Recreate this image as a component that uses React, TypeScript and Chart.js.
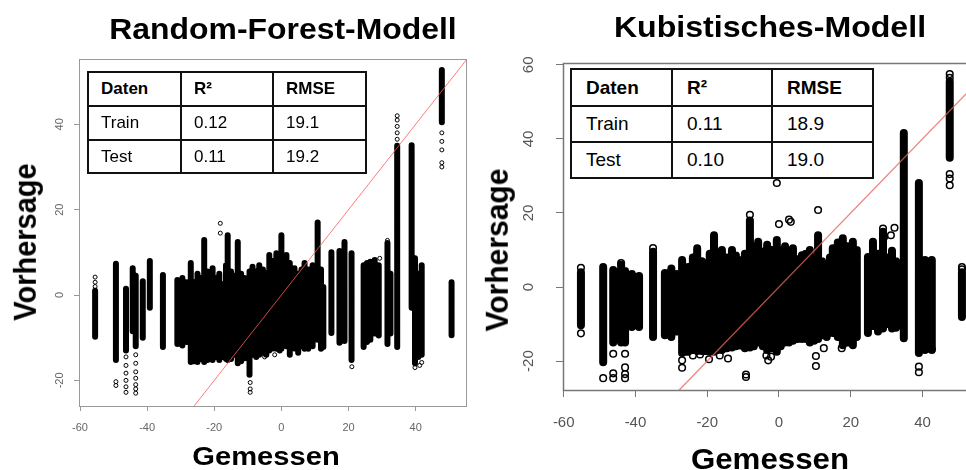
import { useEffect, useRef } from "react";
import { Chart, registerables } from "chart.js";

Chart.register(...registerables);

// [Gemessen, lowest Vorhersage, highest Vorhersage] for each dense column of points
type Column = [number, number, number];
type Point = [number, number];

const rfColumns: Column[] = [
  [-55.5, -9.8, 1.0], [-49.3, -15.2, 7.3], [-46.3, -13.0, 1.5], [-44.3, -8.5, 6.3],
  [-43.4, -12.0, 4.5], [-41.3, -10.0, 3.2], [-39.2, -3.0, 8.0], [-35.3, -12.2, 4.7],
  [-31.0, -11.5, 3.5], [-29.5, -11.8, 4.0], [-28.2, -11.0, 3.0],
  [-27.0, -15.7, 7.5], [-26.0, -15.5, 3.0], [-25.0, -15.7, 5.0], [-24.0, -15.0, 4.0],
  [-23.0, -15.7, 12.9], [-22.0, -15.2, 5.5], [-21.0, -15.0, 3.5], [-20.5, -15.2, 6.3],
  [-19.5, -14.5, 4.0], [-18.5, -15.2, 5.0], [-17.5, -14.5, 2.5], [-16.5, -15.0, 7.0],
  [-16.0, -15.2, 14.0], [-15.0, -15.0, 5.5], [-14.0, -14.0, 4.5], [-13.0, -16.0, 12.4],
  [-12.0, -15.5, 5.0], [-11.0, -14.8, 4.0], [-10.5, -14.5, 3.0], [-9.5, -18.7, 5.5],
  [-8.6, -14.0, 6.6], [-7.5, -14.5, 5.5], [-6.6, -14.0, 7.0], [-5.5, -13.5, 6.0],
  [-4.5, -14.0, 5.0], [-3.6, -13.0, 9.4], [-2.5, -12.5, 8.0], [-1.5, -12.6, 9.8],
  [-0.5, -13.0, 8.5], [0.0, -12.6, 14.0], [1.5, -12.0, 9.4], [2.5, -14.0, 7.5],
  [3.9, -12.5, 6.3], [5.0, -13.5, 5.0], [6.0, -12.0, 6.0], [6.9, -12.6, 7.5],
  [8.0, -12.6, 6.0], [9.3, -12.0, 7.0], [10.8, -10.5, 17.0], [11.8, -12.6, 6.0],
  [12.5, -12.2, 1.9], [14.9, -8.9, 10.0], [17.3, -11.2, 10.3], [18.8, -10.8, 12.4],
  [20.9, -15.2, 9.8],
  [24.5, -12.2, 7.0], [25.5, -11.0, 7.5], [26.5, -10.5, 7.8], [27.8, -9.0, 8.2],
  [29.0, -9.5, 7.0], [31.6, -11.5, 12.2], [32.5, -9.0, 5.0], [34.5, -12.2, 35.0],
  [38.8, -3.0, 35.1], [39.8, -16.0, 8.6], [40.8, -14.5, 5.0], [41.8, -14.0, 7.0],
  [47.8, 40.5, 52.7], [50.7, -9.4, 3.0],
];

const rfOutliers: Point[] = [
  [-55.5, 4.2], [-55.5, 3.0], [-55.5, 2.0],
  [-49.3, -20.3], [-49.3, -21.2],
  [-46.3, -14.5], [-46.3, -16.5], [-46.3, -18.3], [-46.3, -20.0], [-46.3, -21.5], [-46.3, -22.8],
  [-43.4, -14.0], [-43.4, -16.0], [-43.4, -18.0], [-43.4, -19.5], [-43.4, -21.0], [-43.4, -22.0], [-43.4, -23.0],
  [-18.2, 16.8], [-18.2, 14.5],
  [-9.3, -20.5], [-9.3, -22.0], [-9.3, -22.8],
  [-5.0, -14.5], [-2.0, -14.0],
  [10.8, 17.0], [10.8, 15.5],
  [21.0, -16.8],
  [31.6, 12.8], [29.3, 8.6],
  [34.5, 36.5], [34.5, 38.0], [34.5, 39.5], [34.5, 41.0], [34.5, 42.0],
  [39.8, -17.0], [41.8, -15.8], [41.2, -16.5],
  [47.8, 38.0], [47.8, 36.0], [47.8, 34.0], [47.8, 31.0], [47.8, 30.0],
];

const cubColumns: Column[] = [
  [-55.2, -10.3, 4.0], [-49.0, -20.3, 5.4], [-46.2, -15.0, 4.6], [-44.0, -15.0, 6.0],
  [-42.9, -15.0, 4.3], [-41.0, -10.8, 3.5], [-39.0, -10.8, 3.0], [-35.1, -13.5, 9.5],
  [-31.8, -13.0, 3.8], [-30.0, -13.5, 5.0], [-28.5, -12.0, 3.5],
  [-27.0, -17.8, 7.3], [-26.0, -17.5, 5.0], [-25.3, -17.5, 5.4], [-24.0, -17.0, 8.0],
  [-22.8, -17.3, 10.5], [-21.5, -17.3, 7.0], [-20.6, -17.3, 6.5], [-19.3, -17.5, 9.0],
  [-18.1, -17.5, 14.0], [-17.0, -17.0, 9.0], [-15.9, -17.0, 10.0], [-14.5, -16.5, 8.0],
  [-13.1, -16.3, 10.0], [-12.0, -16.0, 8.5], [-10.9, -15.8, 7.3], [-9.5, -16.5, 9.0],
  [-8.1, -16.3, 18.0], [-7.0, -16.0, 11.0], [-5.8, -15.0, 12.2], [-4.5, -16.0, 9.5],
  [-3.3, -17.0, 11.4], [-2.0, -16.5, 10.0], [-0.6, -17.5, 12.7], [0.5, -16.0, 10.0],
  [1.7, -15.0, 11.0], [2.8, -15.0, 9.0], [3.9, -14.5, 10.5], [5.2, -14.0, 7.5],
  [6.4, -14.0, 8.6], [7.5, -14.0, 9.0], [8.6, -15.0, 10.0], [9.8, -14.5, 8.0],
  [10.9, -14.0, 14.0], [12.0, -13.0, 7.0], [13.3, -13.5, 3.8], [14.2, -12.0, 8.0],
  [15.0, -12.4, 10.5], [16.4, -13.5, 12.0], [17.8, -15.7, 13.2], [19.2, -15.0, 11.0],
  [20.6, -15.7, 12.2], [21.7, -13.5, 10.0],
  [24.8, -12.4, 8.1], [26.2, -10.5, 12.2], [27.6, -12.0, 9.0], [29.0, -11.2, 14.9],
  [30.3, -10.0, 8.0], [31.5, -11.2, 9.8], [32.6, -11.0, 7.0], [34.8, -13.8, 41.6],
  [39.0, -17.8, 28.1], [40.7, -17.0, 7.3], [41.7, -16.0, 5.0], [42.6, -17.0, 7.3],
  [47.6, 34.9, 55.5], [51.0, -8.1, 4.0],
];

const cubOutliers: Point[] = [
  [-55.2, 5.2], [-55.2, -12.5],
  [-49.0, -24.6],
  [-46.2, -18.0], [-46.2, -23.3], [-46.2, -24.6],
  [-42.9, -18.0], [-42.9, -21.7], [-42.9, -23.5], [-42.9, -24.6],
  [-44.0, 6.5], [-35.1, 10.5],
  [-27.0, -19.8], [-27.0, -21.8],
  [-24.0, -18.5], [-22.0, -18.2], [-19.5, -19.5], [-16.5, -18.5], [-14.2, -19.3],
  [-9.2, -23.6], [-9.2, -24.3], [-8.1, 19.5],
  [-3.5, -18.5], [-3.0, -19.8], [-2.2, -18.8],
  [-0.6, 28.1], [0.0, 17.0], [2.8, 18.2], [3.3, 17.6],
  [10.9, 20.8], [10.3, -18.6], [10.3, -21.3], [12.5, -16.5], [17.5, -16.5],
  [29.0, 15.8], [29.3, 13.5], [32.2, 16.0], [31.2, 14.0],
  [39.0, -21.5], [39.0, -23.0], [42.6, -16.8],
  [47.6, 57.5], [47.6, 56.5], [47.6, 30.5], [47.6, 29.3], [47.6, 27.5],
  [51.0, 4.8], [51.0, 5.4],
];

const xTickValues = [-60, -40, -20, 0, 20, 40];
const rfYTickValues = [-20, 0, 20, 40];
const cubYTickValues = [-20, 0, 20, 40, 60];

const tableHeader = ["Daten", "R²", "RMSE"];
const rfMetrics = [
  ["Train", "0.12", "19.1"],
  ["Test", "0.11", "19.2"],
];
const cubMetrics = [
  ["Train", "0.11", "18.9"],
  ["Test", "0.10", "19.0"],
];

const FONT = '"Liberation Sans", Arial, Helvetica, sans-serif';

// Draws the closed plot frame around the chart area
const framePlugin = {
  id: "frame",
  beforeDatasetsDraw(chart: any, _args: any, opts: any) {
    const { ctx, chartArea: a } = chart;
    ctx.save();
    ctx.strokeStyle = opts.color;
    ctx.lineWidth = opts.width;
    ctx.strokeRect(a.left + 0.5, a.top + 0.5, a.right - a.left, a.bottom - a.top);
    ctx.restore();
  },
};

type PanelSpec = {
  columns: Column[];
  outliers: Point[];
  yTicks: number[];
  xMin: number; xMax: number; yMin: number; yMax: number;
  padding: { left: number; top: number; right: number; bottom: number };
  yAxisWidth: number; xAxisHeight: number;
  tickFont: number; tickColor: string; tickLen: number;
  xTickPad: number; yTickPad: number;
  columnWidth: number; pointRadius: number; pointBorder: number;
  diagColor: string; diagWidth: number;
  frameColor: string; frameWidth: number;
};

function makeChart(canvas: HTMLCanvasElement, s: PanelSpec) {
  const segments: { x: number; y: number | null }[] = [];
  s.columns.forEach(([x, lo, hi]) => {
    segments.push({ x, y: lo }, { x, y: hi }, { x, y: null });
  });
  const points = s.outliers.map(([x, y]) => ({ x, y }));

  return new Chart(canvas, {
    type: "scatter",
    data: {
      datasets: [
        {
          // identity line: Vorhersage = Gemessen
          data: [{ x: -100, y: -100 }, { x: 100, y: 100 }],
          showLine: true,
          borderColor: s.diagColor,
          borderWidth: s.diagWidth,
          pointRadius: 0,
          order: 0,
        },
        {
          data: segments,
          showLine: true,
          spanGaps: false,
          borderColor: "#000",
          borderWidth: s.columnWidth,
          borderCapStyle: "round",
          pointRadius: 0,
          order: 1,
        },
        {
          data: points,
          pointStyle: "circle",
          pointRadius: s.pointRadius,
          pointBorderWidth: s.pointBorder,
          borderColor: "#000",
          backgroundColor: "rgba(0,0,0,0)",
          order: 2,
        },
      ] as any,
    },
    options: {
      animation: false,
      responsive: false,
      maintainAspectRatio: false,
      layout: { padding: s.padding },
      plugins: {
        legend: { display: false },
        tooltip: { enabled: false },
        frame: { color: s.frameColor, width: s.frameWidth },
      } as any,
      scales: {
        x: {
          type: "linear",
          min: s.xMin,
          max: s.xMax,
          afterBuildTicks: (sc: any) => {
            sc.ticks = xTickValues.map((v) => ({ value: v }));
          },
          afterFit: (sc: any) => {
            sc.height = s.xAxisHeight;
          },
          ticks: {
            includeBounds: false,
            autoSkip: false,
            maxRotation: 0,
            minRotation: 0,
            padding: s.xTickPad,
            color: s.tickColor,
            font: { family: FONT, size: s.tickFont },
            callback: (v: any) => String(v),
          },
          grid: {
            display: true,
            drawOnChartArea: false,
            drawTicks: true,
            tickLength: s.tickLen,
            color: s.frameColor,
          },
          border: { display: false },
        },
        y: {
          type: "linear",
          min: s.yMin,
          max: s.yMax,
          afterBuildTicks: (sc: any) => {
            sc.ticks = s.yTicks.map((v) => ({ value: v }));
          },
          afterFit: (sc: any) => {
            sc.width = s.yAxisWidth;
          },
          ticks: {
            includeBounds: false,
            autoSkip: false,
            minRotation: 90,
            maxRotation: 90,
            crossAlign: "center",
            padding: s.yTickPad,
            color: s.tickColor,
            font: { family: FONT, size: s.tickFont },
            callback: (v: any) => String(v),
          },
          grid: {
            display: true,
            drawOnChartArea: false,
            drawTicks: true,
            tickLength: s.tickLen,
            color: s.frameColor,
          },
          border: { display: false },
        },
      },
    } as any,
    plugins: [framePlugin],
  });
}

function MetricsTable(props: {
  cols: number[];
  rows: number[];
  fontSize: number;
  padLeft: number;
  body: string[][];
}) {
  const { cols, rows, fontSize, padLeft, body } = props;
  const grid = [tableHeader, ...body];
  const cells: any[] = [];
  grid.forEach((row, r) =>
    row.forEach((text, c) => {
      cells.push(
        <div
          key={`${r}-${c}`}
          style={{
            position: "absolute",
            left: cols[c] - 1,
            top: rows[r] - 1,
            width: cols[c + 1] - cols[c] + 2,
            height: rows[r + 1] - rows[r] + 2,
            boxSizing: "border-box",
            border: "2px solid #111",
            background: "#fff",
            display: "flex",
            alignItems: "center",
            paddingLeft: padLeft,
            fontSize,
            fontWeight: r === 0 ? "bold" : "normal",
            color: "#000",
            whiteSpace: "nowrap",
          }}
        >
          {text}
        </div>
      );
    })
  );
  return <>{cells}</>;
}

function Label(props: {
  text: string;
  x: number;
  y: number;
  size: number;
  sx: number;
  vertical?: boolean;
}) {
  const { text, x, y, size, sx, vertical } = props;
  return (
    <div
      style={{
        position: "absolute",
        left: x,
        top: y,
        fontSize: size,
        fontWeight: "bold",
        lineHeight: 1,
        whiteSpace: "nowrap",
        color: "#000",
        transform: `translate(-50%, -50%) scaleX(${sx})${vertical ? " rotate(-90deg)" : ""}`,
      }}
    >
      {text}
    </div>
  );
}

export default function App() {
  const leftRef = useRef<HTMLCanvasElement>(null);
  const rightRef = useRef<HTMLCanvasElement>(null);

  useEffect(() => {
    const left = makeChart(leftRef.current!, {
      columns: rfColumns,
      outliers: rfOutliers,
      yTicks: rfYTickValues,
      xMin: -60.3, xMax: 55, yMin: -26, yMax: 55.3,
      padding: { left: 0, top: 59, right: 17, bottom: 34 },
      yAxisWidth: 79, xAxisHeight: 30,
      tickFont: 11, tickColor: "#666", tickLen: 5,
      xTickPad: 10, yTickPad: 6,
      columnWidth: 6, pointRadius: 2, pointBorder: 1,
      diagColor: "rgba(255, 90, 90, 0.8)", diagWidth: 1,
      frameColor: "#999", frameWidth: 1,
    });
    const right = makeChart(rightRef.current!, {
      columns: cubColumns,
      outliers: cubOutliers,
      yTicks: cubYTickValues,
      xMin: -60.2, xMax: 55.2, yMin: -27.8, yMax: 60.5,
      padding: { left: 0, top: 63, right: 16, bottom: 40 },
      yAxisWidth: 80, xAxisHeight: 40,
      tickFont: 15, tickColor: "#555", tickLen: 7,
      xTickPad: 17, yTickPad: 16,
      columnWidth: 8, pointRadius: 3.3, pointBorder: 1.5,
      diagColor: "rgba(230, 100, 90, 0.8)", diagWidth: 1.3,
      frameColor: "#777", frameWidth: 1.5,
    });
    return () => {
      left.destroy();
      right.destroy();
    };
  }, []);

  return (
    <div
      style={{
        position: "fixed",
        left: 0,
        top: 0,
        width: 966,
        height: 470,
        overflow: "hidden",
        background: "#fff",
        fontFamily: FONT,
      }}
    >
      <canvas
        ref={leftRef}
        width={483}
        height={470}
        style={{ position: "absolute", left: 0, top: 0, width: 483, height: 470 }}
      />
      <canvas
        ref={rightRef}
        width={510}
        height={470}
        style={{ position: "absolute", left: 483, top: 0, width: 510, height: 470 }}
      />

      <Label text="Random-Forest-Modell" x={283} y={29} size={29} sx={1.1} />
      <Label text="Kubistisches-Modell" x={770} y={27} size={30} sx={1.07} />
      <Label text="Vorhersage" x={25} y={242} size={29} sx={1.1} vertical />
      <Label text="Vorhersage" x={497} y={250} size={30} sx={1.07} vertical />
      <Label text="Gemessen" x={266} y={456} size={26.5} sx={1.1} />
      <Label text="Gemessen" x={770} y={459} size={29.5} sx={1.06} />

      <MetricsTable cols={[88, 181, 273, 366]} rows={[72, 106, 140, 173]} fontSize={17} padLeft={12} body={rfMetrics} />
      <MetricsTable cols={[571, 672, 772, 873]} rows={[69, 106, 142, 178]} fontSize={19} padLeft={14} body={cubMetrics} />
    </div>
  );
}
